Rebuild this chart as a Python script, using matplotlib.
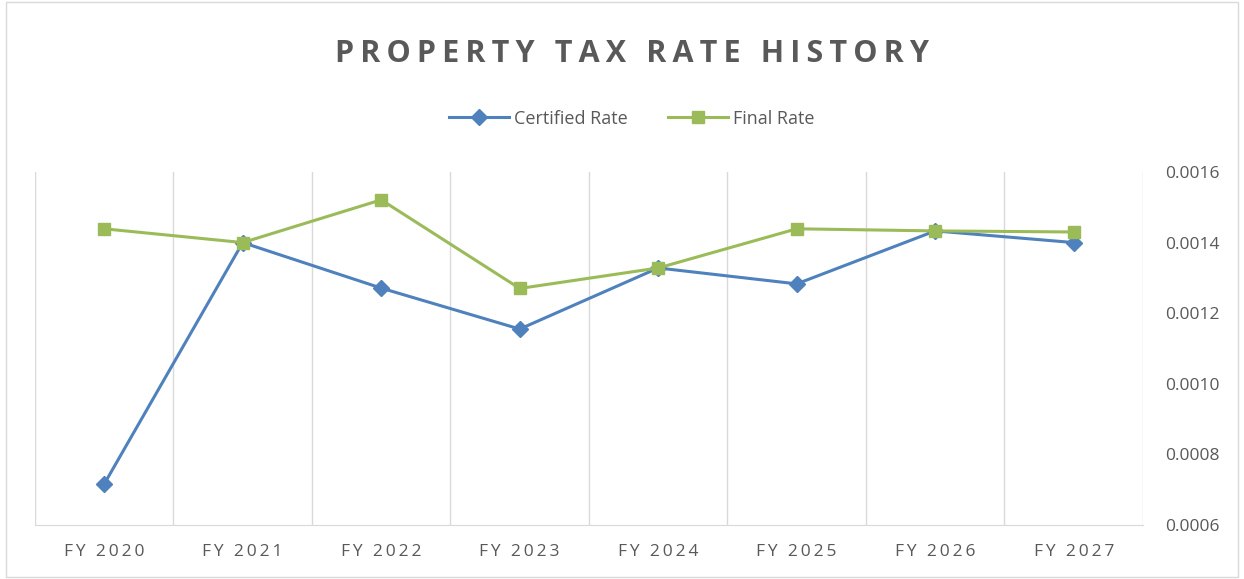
import matplotlib.pyplot as plt
from matplotlib.patches import Rectangle

years = ['FY 2020', 'FY 2021', 'FY 2022', 'FY 2023', 'FY 2024', 'FY 2025', 'FY 2026', 'FY 2027']
certified = [0.000716, 0.001400, 0.001271, 0.001155, 0.001328, 0.001283, 0.001433, 0.001400]
final = [0.001439, 0.001400, 0.001521, 0.001270, 0.001328, 0.001439, 0.001433, 0.001430]
yticks = [0.0006, 0.0008, 0.0010, 0.0012, 0.0014, 0.0016]
title = 'PROPERTY TAX RATE HISTORY'

plt.rcParams['font.family'] = ['Open Sans', 'DejaVu Sans']


def spaced(s):
    # excel-style letter spacing, thin space between characters
    return '\u2009'.join(s)


fig = plt.figure(figsize=(12.44, 5.79), dpi=100)
fig.patches.append(Rectangle((0.005, 0.003), 0.99, 0.994, transform=fig.transFigure,
                             fill=False, edgecolor='#d9d9d9', linewidth=1))
ax = fig.add_axes([0.0281, 0.0933, 0.8907, 0.6097])

x = list(range(len(years)))
ax.plot(x, certified, color='#4F81BD', lw=2.2, marker='D', markersize=8, label='Certified Rate', zorder=3)
ax.plot(x, final, color='#9BBB59', lw=2.2, marker='s', markersize=9, label='Final Rate', zorder=3)

ax.set_xlim(-0.5, len(years) - 0.5)
ax.set_ylim(0.0006, 0.0016)
ax.set_xticks(x)
ax.set_xticklabels([spaced(y) for y in years])
ax.set_xticks([i - 0.5 for i in range(len(years) + 1)], minor=True)
ax.grid(True, which='minor', axis='x', color='#d9d9d9', lw=1)
ax.tick_params(axis='x', which='both', length=0, pad=14, labelsize=12.5, labelcolor='#595959')
ax.yaxis.tick_right()
ax.set_yticks(yticks)
ax.set_yticklabels(['%.4f' % v for v in yticks])
ax.tick_params(axis='y', length=0, pad=16, labelsize=12.5, labelcolor='#595959')
for s in ['top', 'left', 'right']:
    ax.spines[s].set_visible(False)
ax.spines['bottom'].set_color('#d9d9d9')

fig.text(0.508, 0.907, spaced(title), ha='center', va='center',
         fontsize=22, fontweight='bold', color='#595959')
fig.legend(loc='center', bbox_to_anchor=(0.508, 0.795), ncol=2, frameon=False,
           fontsize=13, labelcolor='#595959', handlelength=3.3, columnspacing=2.2, handletextpad=0.3)

fig.savefig('out.png', dpi=100)
